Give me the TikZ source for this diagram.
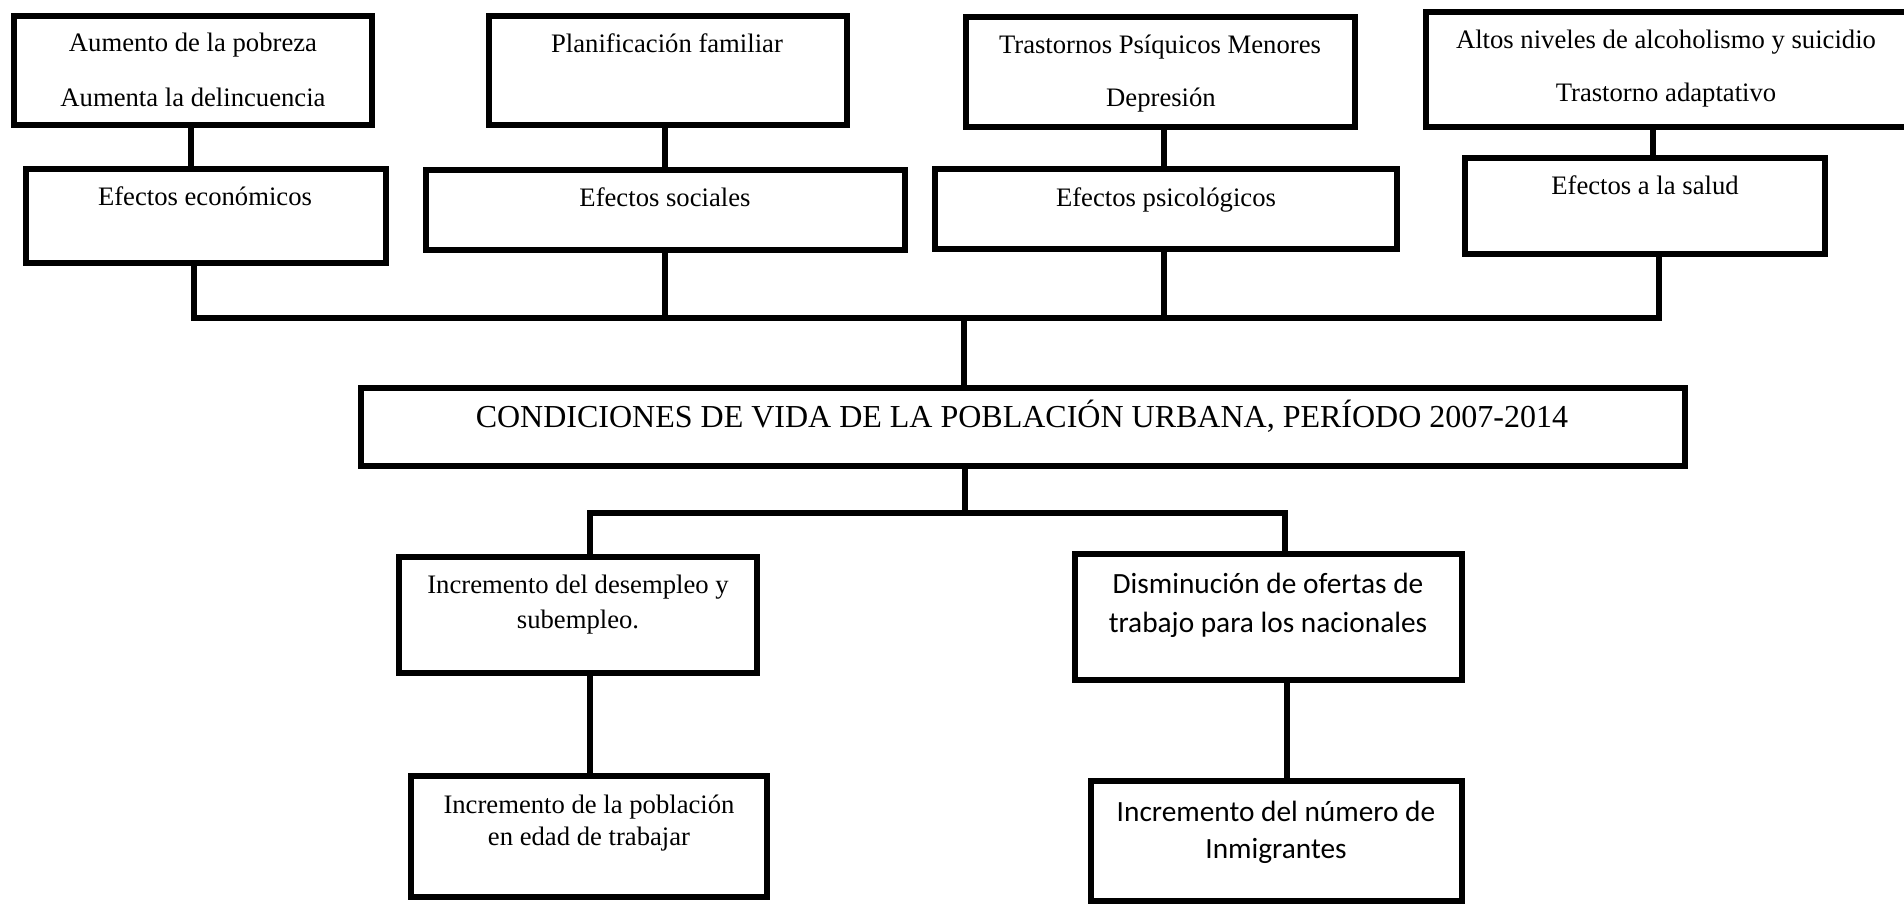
\documentclass[tikz,border=0pt]{standalone}
\usepackage{fontspec}
\setmainfont{Liberation Serif}
\newfontfamily\calib{Carlito}
\usetikzlibrary{fit}
\begin{document}
\begin{tikzpicture}[x=0.75pt,y=-0.75pt,
  box/.style={draw, line width=4.5pt, rectangle, inner sep=0pt},
  link/.style={line width=4.5pt},
  txt/.style={font=\fontsize{20}{24}\selectfont, inner sep=0pt, anchor=base},
  stxt/.style={font=\calib\fontsize{22}{26}\selectfont, inner sep=0pt, anchor=base},
  ttxt/.style={font=\fontsize{24}{28}\selectfont, inner sep=0pt, anchor=base}]
\useasboundingbox (0,0) rectangle (1904,905);
% top boxes
\node[box, fit={(14,16) (372,125)}] (A1) {};
\node[box, fit={(489,16) (847,125)}] (A2) {};
\node[box, fit={(966,17) (1355,127)}] (A3) {};
\node[box, fit={(1426,12) (1915,127)}] (A4) {};
\node[box, fit={(26,169) (386,263)}] (B1) {};
\node[box, fit={(426,170) (905,250)}] (B2) {};
\node[box, fit={(935,169) (1397,249)}] (B3) {};
\node[box, fit={(1465,158) (1825,254)}] (B4) {};
\node[box, fit={(361,388) (1685,466)}] (M) {};
\node[box, fit={(399,557) (757,673)}] (C1) {};
\node[box, fit={(1075,554) (1462,680)}] (C2) {};
\node[box, fit={(411,776) (767,897)}] (D1) {};
\node[box, fit={(1091,781) (1462,901)}] (D2) {};
% texts
\node[txt] (A1a) at (193,52) {Aumento de la pobreza};
\node[txt] (A1b) at (193,106.5) {Aumenta la delincuencia};
\node[txt] (A2a) at (667,52.5) {Planificación familiar};
\node[txt] (A3a) at (1160,54) {Trastornos Psíquicos Menores};
\node[txt] (A3b) at (1161,107) {Depresión};
\node[txt] (A4a) at (1666,49) {Altos niveles de alcoholismo y suicidio};
\node[txt] (A4b) at (1666,101.5) {Trastorno adaptativo};
\node[txt] (B1a) at (205,205.5) {Efectos económicos};
\node[txt] (B2a) at (665,206.5) {Efectos sociales};
\node[txt] (B3a) at (1166,206.5) {Efectos psicológicos};
\node[txt] (B4a) at (1645,195) {Efectos a la salud};
\node[ttxt] (Ma) at (1022,428) {CONDICIONES DE VIDA DE LA POBLACIÓN URBANA, PERÍODO 2007-2014};
\node[txt] (C1a) at (578,593) {Incremento del desempleo y};
\node[txt] (C1b) at (578,628) {subempleo.};
\node[stxt] (C2a) at (1268,594) {Disminución de ofertas de};
\node[stxt] (C2b) at (1268,632.5) {trabajo para los nacionales};
\node[txt] (D1a) at (589,813) {Incremento de la población};
\node[txt] (D1b) at (589,845) {en edad de trabajar};
\node[stxt] (D2a) at (1276,821) {Incremento del número de};
\node[stxt] (D2b) at (1276,858) {Inmigrantes};
% connectors top
\coordinate (k1) at (191,0);
\coordinate (k2) at (665,0);
\coordinate (k3) at (1164,0);
\coordinate (k4) at (1653,0);
\draw[link] (A1.south -| k1) -- (B1.north -| k1);
\draw[link] (A2.south -| k2) -- (B2.north -| k2);
\draw[link] (A3.south -| k3) -- (B3.north -| k3);
\draw[link] (A4.south -| k4) -- (B4.north -| k4);
\coordinate (b1) at (194,318);
\coordinate (b2) at (665,318);
\coordinate (b3) at (1164,318);
\coordinate (b4) at (1659,318);
\coordinate (bc) at (964,318);
\draw[link] (B1.south -| b1) -- (b1);
\draw[link] (B2.south -| b2) -- (b2);
\draw[link] (B3.south -| b3) -- (b3);
\draw[link] (B4.south -| b4) -- (b4);
\draw[link, line cap=rect] (b1) -- (b4);
\draw[link] (bc) -- (M.north -| bc);
% connectors bottom
\coordinate (lc) at (965,513);
\coordinate (l1) at (590,513);
\coordinate (l2) at (1285,513);
\coordinate (l3) at (1287,0);
\draw[link] (M.south -| lc) -- (lc);
\draw[link, line cap=rect] (l1) -- (l2);
\draw[link] (l1) -- (C1.north -| l1);
\draw[link] (l2) -- (C2.north -| l2);
\draw[link] (C1.south -| l1) -- (D1.north -| l1);
\draw[link] (C2.south -| l3) -- (D2.north -| l3);
\end{tikzpicture}
\end{document}
